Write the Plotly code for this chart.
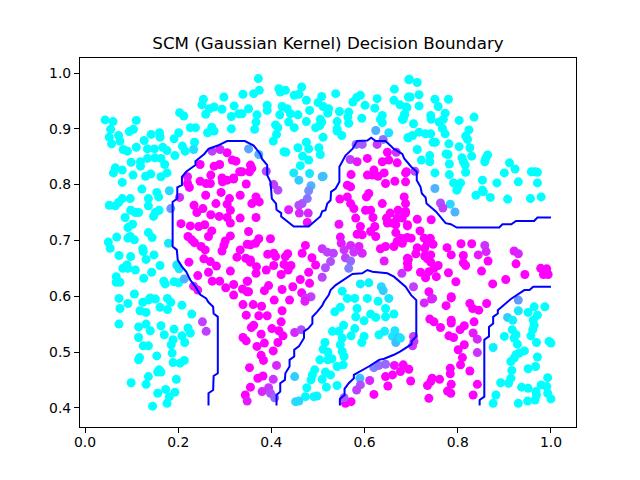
import plotly.graph_objects as go

title = "SCM (Gaussian Kernel) Decision Boundary"
x_ticks = [0.0, 0.2, 0.4, 0.6, 0.8, 1.0]
y_ticks = [0.4, 0.5, 0.6, 0.7, 0.8, 0.9, 1.0]

cyan_points = [
(.043,.916),(.060,.913),(.110,.915),(.055,.899),(.052,.885),(.072,.888),(.057,.873),(.075,.878),(.082,.863),(.091,.860),(.095,.895),(.104,.899),(.127,.879),(.110,.867),(.142,.890),(.160,.893),(.161,.885),(.134,.864),(.149,.864),(.167,.867),(.176,.861),(.191,.882),(.201,.893),(.193,.852),(.209,.869),(.215,.860),(.226,.902),(.237,.902),(.263,.893),(.272,.903),(.277,.896),(.314,.900),(.203,.929),(.212,.923),(.254,.953),(.251,.943),(.259,.926),(.267,.936),(.277,.939),(.294,.935),(.298,.957),(.320,.941),(.314,.922),(.330,.927),(.099,.840),(.119,.841),(.119,.833),(.134,.847),(.150,.848),(.163,.847),(.171,.836),(.065,.830),(.061,.821),(.080,.826),(.103,.817),(.130,.815),(.141,.819),(.163,.814),(.176,.821),(.235,.876),
(.372,.990),(.339,.962),(.362,.963),(.374,.969),(.416,.972),(.419,.966),(.430,.969),(.465,.975),(.449,.960),(.459,.962),(.475,.951),(.538,.963),(.508,.958),(.500,.947),(.511,.940),(.523,.936),(.521,.928),(.546,.931),(.583,.956),(.591,.960),(.575,.948),(.601,.942),(.627,.954),(.622,.937),(.664,.971),(.663,.951),(.676,.943),(.694,.957),(.695,.988),(.689,.939),(.686,.926),(.683,.917),(.351,.936),(.337,.927),(.369,.925),(.367,.912),(.364,.899),(.391,.942),(.391,.933),(.423,.940),(.434,.936),(.418,.925),(.441,.927),(.457,.925),(.437,.912),(.449,.902),(.409,.907),(.414,.902),(.411,.890),(.404,.878),(.482,.933),(.475,.913),(.505,.917),(.508,.912),(.495,.902),(.504,.906),(.541,.913),(.541,.900),(.541,.896),(.551,.888),(.566,.930),(.564,.921),(.566,.910),(.594,.919),(.638,.924),(.634,.917),(.638,.911),(.511,.885),(.475,.876),(.457,.866),(.480,.864),(.502,.866),(.427,.859),(.431,.858),(.505,.854),(.467,.851),(.480,.844),(.462,.834),(.694,.884),
(.696,.989),(.713,.983),(.698,.957),(.717,.961),(.717,.941),(.691,.938),(.685,.924),(.681,.917),(.705,.909),(.751,.953),(.780,.953),(.758,.940),(.773,.928),(.742,.924),(.743,.917),(.760,.912),(.769,.917),(.803,.915),(.835,.921),(.767,.901),(.773,.891),(.717,.894),(.731,.891),(.742,.891),(.703,.888),(.693,.884),(.747,.876),(.752,.876),(.781,.873),(.824,.898),(.817,.887),(.821,.881),(.803,.868),(.826,.866),(.830,.851),(.713,.863),(.740,.852),(.740,.841),(.722,.844),(.775,.855),(.779,.854),(.809,.848),(.812,.841),(.816,.835),(.782,.837),(.751,.821),(.782,.818),(.817,.822),(.864,.853),(.860,.847),(.858,.841),(.911,.839),(.923,.828),(.900,.821),(.958,.823),(.966,.823),(.971,.822),(.853,.808),(.884,.803),(.930,.805),(.971,.803),(.791,.803),(.806,.803),
(.080,.804),(.122,.792),(.154,.786),(.158,.778),(.136,.775),(.136,.762),(.097,.775),(.080,.775),(.072,.768),(.065,.762),(.052,.763),(.098,.754),(.115,.750),(.108,.750),(.086,.741),(.159,.754),(.151,.750),(.147,.743),(.102,.729),(.092,.723),(.136,.714),(.144,.705),(.097,.707),(.092,.704),(.106,.701),(.068,.706),(.050,.697),(.054,.686),(.124,.685),(.125,.680),(.073,.673),(.098,.671),(.148,.674),(.131,.666),(.161,.655),(.090,.656),(.081,.650),(.092,.650),(.108,.647),(.143,.643),(.067,.635),(.067,.625),(.075,.625),(.126,.632),(.169,.627),(.172,.622),(.191,.626),(.201,.624),(.106,.604),(.140,.597),
(.801,.796),(.798,.790),(.853,.790),(.839,.781),(.855,.787),(.870,.777),(.907,.774),(.956,.775),(.979,.778),
(.073,.596),(.092,.587),(.075,.578),(.124,.589),(.136,.593),(.151,.595),(.177,.596),(.184,.589),(.208,.584),(.161,.580),(.177,.576),(.118,.574),(.131,.571),(.229,.568),(.073,.550),(.115,.545),(.131,.550),(.140,.538),(.163,.547),(.191,.541),(.221,.543),(.226,.534),(.115,.526),(.170,.531),(.208,.529),(.189,.522),(.214,.517),(.185,.513),(.125,.511),(.136,.511),(.187,.498),(.154,.493),(.117,.490),(.115,.486),(.189,.481),(.204,.480),(.213,.485),(.159,.468),(.163,.464),(.156,.464),(.136,.456),(.196,.451),(.099,.445),(.131,.442),(.173,.433),(.193,.428),(.156,.426),(.181,.420),(.176,.408),(.145,.403),
(.563,.596),(.579,.596),(.606,.596),(.629,.591),(.548,.580),(.536,.572),(.584,.578),(.581,.563),(.599,.556),(.613,.568),(.624,.562),(.645,.578),(.645,.563),(.663,.568),(.555,.548),(.579,.542),(.531,.537),(.545,.537),(.552,.525),(.571,.529),(.599,.528),(.594,.517),(.515,.517),(.548,.513),(.511,.505),(.552,.501),(.521,.500),(.556,.492),(.530,.488),(.504,.486),(.521,.486),(.554,.477),(.541,.474),(.631,.531),(.493,.468),(.488,.459),(.485,.450),(.516,.464),(.527,.459),(.509,.451),(.518,.437),(.541,.440),(.476,.436),
(.964,.581),(.987,.581),(.951,.571),(.971,.566),(.962,.557),(.964,.548),(.961,.540),(.957,.529),(.917,.540),(.925,.531),(.900,.528),(.921,.525),(.928,.514),(.969,.517),(.996,.519),(1.0,.516),(.943,.502),(.925,.495),(.932,.498),(.921,.489),(.914,.483),(.971,.491),(.951,.470),(.967,.474),(.916,.467),(.914,.453),(.892,.445),(.909,.444),(.993,.454),(.937,.437),(.951,.435),(.979,.441),(.991,.438),(.968,.429),(.969,.423),(.993,.426),(1.0,.416),(.882,.423),(.876,.408),(.930,.408),(.950,.412),(.966,.414),
]

magenta_points = [
(.305,.857),(.316,.844),(.324,.842),(.247,.836),(.277,.833),(.289,.836),(.270,.817),(.294,.812),(.319,.812),(.332,.823),
(.355,.835),(.358,.829),(.337,.823),(.353,.823),(.649,.858),(.606,.847),(.638,.841),(.652,.844),(.670,.839),(.690,.823),(.571,.818),(.620,.826),(.606,.817),(.617,.817),(.642,.821),(.629,.815),(.688,.821),(.688,.805),
(.220,.802),(.224,.795),(.247,.806),(.260,.802),(.269,.802),(.259,.781),(.292,.786),(.295,.805),(.305,.808),(.319,.810),(.346,.801),(.333,.781),(.310,.775),(.305,.765),(.281,.766),(.234,.763),(.253,.757),(.240,.750),(.312,.754),(.270,.746),(.288,.743),(.305,.741),(.312,.731),(.333,.740),(.206,.730),(.226,.726),(.244,.725),(.257,.728),(.272,.717),(.265,.707),(.221,.707),(.229,.701),(.235,.696),(.312,.708),(.301,.699),(.298,.691),(.294,.681),(.249,.689),(.258,.683),(.351,.716),(.348,.693),(.333,.683),(.326,.670),(.345,.668),(.355,.665),(.223,.661),(.255,.667),(.269,.662),(.282,.654),(.312,.645),(.265,.643),(.242,.637),(.273,.627),(.289,.627),(.302,.615),(.319,.621),(.338,.613),(.348,.627),(.348,.608),(.319,.602),
(.367,.778),(.374,.769),(.358,.766),(.367,.741),(.398,.703),(.373,.703),(.366,.695),(.355,.692),(.355,.661),(.368,.653),(.367,.641),(.392,.675),(.405,.677),(.409,.671),(.405,.655),(.389,.647),(.430,.671),(.435,.676),(.427,.657),(.442,.655),(.436,.647),(.421,.639),(.480,.643),(.495,.656),(.487,.669),(.473,.691),(.466,.677),(.349,.627),(.394,.619),(.385,.610),(.423,.612),(.462,.630),(.446,.617),(.465,.606),(.482,.623),(.351,.608),
(.563,.799),(.570,.796),(.547,.774),(.563,.778),(.570,.766),(.577,.757),(.581,.740),(.618,.741),(.602,.754),(.613,.754),(.604,.778),(.609,.784),(.645,.802),(.665,.806),(.638,.766),(.685,.778),(.688,.766),(.672,.754),(.688,.752),(.655,.749),(.647,.740),(.649,.731),(.670,.740),(.660,.731),(.667,.728),(.692,.728),(.591,.725),(.584,.711),(.595,.710),(.622,.725),(.613,.716),(.624,.707),(.667,.714),(.677,.704),(.688,.704),(.663,.689),(.645,.689),(.634,.685),(.670,.698),(.692,.659),(.692,.668),
(.688,.749),(.681,.740),(.713,.738),(.743,.737),(.692,.726),(.719,.717),(.692,.705),(.700,.704),(.681,.695),(.728,.704),(.741,.704),(.735,.695),(.747,.693),(.713,.687),(.710,.676),(.729,.686),(.729,.672),(.742,.674),(.735,.667),(.742,.661),(.758,.655),(.694,.666),(.693,.652),(.749,.650),(.720,.643),(.731,.633),(.738,.644),(.754,.635),(.780,.642),(.796,.626),(.777,.687),(.786,.674),(.807,.694),(.830,.694),(.812,.673),(.812,.660),(.817,.655),(.865,.663),(.851,.645),(.925,.658),(.944,.639),(.978,.650),(.991,.649),(.984,.639),(.994,.639),(.903,.630),(.875,.622),(.738,.608),(.786,.599),
(.339,.585),(.361,.585),(.379,.582),(.346,.566),(.373,.565),(.391,.565),(.406,.593),(.439,.593),(.423,.574),(.421,.554),(.362,.548),(.357,.544),(.401,.542),(.416,.538),(.425,.529),(.378,.532),(.339,.526),(.346,.520),(.414,.517),(.385,.516),(.369,.510),(.404,.502),(.378,.494),(.383,.485),(.353,.472),(.382,.457),(.371,.453),(.355,.437),(.344,.423),
(.559,.408),(.571,.411),(.620,.424),(.650,.439),(.645,.456),(.660,.459),(.683,.477),(.677,.465),(.695,.469),(.699,.448),
(.744,.595),(.786,.597),(.775,.583),(.826,.587),(.832,.578),(.845,.575),(.862,.587),(.740,.559),(.749,.554),(.763,.544),(.786,.557),(.786,.552),(.835,.554),(.814,.547),(.805,.540),(.781,.529),(.791,.526),(.814,.513),(.801,.504),(.810,.490),(.806,.477),(.826,.466),(.784,.471),(.784,.461),(.761,.451),(.745,.453),(.742,.447),(.735,.440),(.786,.442),(.778,.430),(.785,.426),(.738,.417),(.842,.442),(.833,.423),
]

mixed_points = [
(.233,.863,.12),(.273,.860,.75),(.290,.863,.85),(.220,.814,.9),
(.652,.893,.1),(.624,.897,.3),(.448,.821,.1),(.482,.820,.1),(.511,.815,.25),(.351,.864,.35),(.373,.854,.3),(.389,.824,.7),(.582,.872,.6),(.595,.872,.65),(.640,.881,.55),(.627,.872,.8),(.668,.858,.8),(.569,.845,.75),(.584,.841,.9),(.708,.824,.7),
(.179,.695,.08),(.197,.656,.1),(.202,.649,.1),(.181,.789,.15),(.184,.757,.4),(.203,.777,.85),(.213,.631,.3),(.233,.618,.85),(.242,.611,.9),
(.459,.808,.2),(.485,.798,.3),(.509,.814,.25),(.480,.789,.45),(.477,.775,.55),(.466,.766,.65),(.459,.763,.7),(.414,.790,.7),(.405,.800,.75),(.437,.755,.9),(.460,.749,.85),(.479,.749,.85),(.477,.732,.95),(.485,.599,.75),(.473,.597,.8),
(.509,.685,.8),(.520,.679,.75),(.533,.677,.75),(.527,.662,.7),(.516,.651,.7),(.509,.634,.75),(.545,.729,.95),(.548,.706,.95),(.550,.695,.9),(.556,.683,.8),(.570,.691,.85),(.588,.689,.9),(.577,.679,.8),(.595,.677,.85),(.559,.669,.75),(.570,.663,.6),(.566,.650,.5),(.642,.663,.9),(.680,.641,.8),
(.591,.622,.05),(.609,.624,.05),(.552,.609,.02),(.636,.617,.15),(.640,.610,.2),
(.751,.793,.3),(.784,.765,.15),(.794,.751,.3),(.763,.767,.7),(.768,.758,.75),(.844,.674,.9),(.858,.691,.8),(.861,.680,.85),(.921,.681,.9),(.930,.676,.85),(.705,.617,.75),(.746,.596,.85),
(.252,.554,.75),(.260,.537,.75),(.348,.412,.9),(.411,.476,.85),(.404,.451,.8),(.394,.436,.8),(.380,.429,.85),(.398,.426,.7),(.407,.418,.6),(.450,.535,.85),(.464,.540,.7),(.472,.591,.9),
(.652,.596,.1),(.643,.537,.05),(.665,.538,.1),(.660,.528,.1),(.674,.526,.25),(.667,.517,.25),(.473,.420,.02),(.452,.411,.15),(.459,.412,.15),(.491,.420,.03),(.498,.421,.05),(.450,.456,.2),(.590,.453,.25),
(.591,.441,.7),(.583,.432,.75),(.611,.449,.85),(.620,.472,.5),(.631,.476,.55),(.645,.478,.6),(.556,.418,.65),(.664,.476,.95),
(.705,.528,.75),(.706,.519,.8),(.703,.511,.8),(.677,.525,.1),(.728,.588,.85),(.842,.523,.85),(.842,.499,.8),(.833,.534,.9),
(.930,.593,.4),(.930,.574,.1),(.907,.562,.2),(.918,.557,.05),(.876,.508,.05),
]

boundary_left = [
(.265,.404),(.265,.426),(.275,.432),(.276,.457),(.285,.462),(.285,.563),(.276,.569),(.275,.581),(.265,.589),(.260,.596),(.247,.603),(.237,.617),(.226,.629),(.217,.644),(.208,.653),(.199,.665),(.197,.683),(.188,.689),(.188,.769),(.198,.775),(.198,.795),(.208,.799),(.208,.814),(.217,.823),(.237,.835),(.237,.842),(.256,.855),(.265,.864),(.285,.870),(.305,.878),(.343,.878),(.362,.870),(.376,.855),(.380,.846),(.391,.835),(.391,.817),(.398,.805),(.401,.775),(.410,.766),(.411,.755),(.421,.749),(.421,.743),(.448,.725),(.480,.725),(.505,.743),(.509,.752),(.516,.754),(.520,.766),(.527,.772),(.528,.787),(.538,.793),(.546,.805),(.546,.832),(.548,.835),(.559,.852),(.574,.864),(.584,.878),(.606,.879),(.614,.884),(.624,.878),(.645,.878),(.663,.864),(.681,.855),(.685,.847),(.700,.832),(.712,.823),(.712,.808),(.720,.796),(.723,.784),(.731,.777),(.733,.766),(.753,.752),(.774,.731),(.785,.729),(.798,.723),(.889,.723),(.896,.729),(.915,.729),(.925,.735),(.964,.735),(.971,.741),(1.0,.741),
]
boundary_middle = [
(.411,.404),(.411,.423),(.419,.429),(.419,.444),(.429,.450),(.430,.462),(.439,.474),(.439,.486),(.449,.492),(.449,.504),(.459,.510),(.470,.525),(.470,.537),(.479,.542),(.488,.551),(.488,.563),(.498,.572),(.509,.583),(.513,.590),(.523,.602),(.527,.611),(.538,.620),(.574,.640),(.595,.641),(.606,.647),(.617,.644),(.649,.641),(.663,.635),(.688,.617),(.700,.602),(.711,.593),(.711,.528),(.701,.519),(.701,.514),(.677,.501),(.663,.495),(.642,.488),(.631,.486),(.609,.474),(.577,.459),(.577,.453),(.566,.444),(.557,.434),(.557,.423),(.547,.416),(.547,.404),
]
boundary_right = [
(.847,.404),(.847,.414),(.857,.420),(.857,.522),(.867,.528),(.867,.545),(.876,.551),(.876,.563),(.886,.569),(.886,.575),(.914,.595),(.943,.611),(.954,.611),(.962,.617),(1.0,.617),
]

all_x = [p[0] for p in cyan_points] + [p[0] for p in magenta_points] + [p[0] for p in mixed_points]
all_y = [p[1] for p in cyan_points] + [p[1] for p in magenta_points] + [p[1] for p in mixed_points]
all_v = [0.0] * len(cyan_points) + [1.0] * len(magenta_points) + [p[2] for p in mixed_points]

fig = go.Figure()
fig.add_trace(go.Scatter(
    x=all_x, y=all_y, mode="markers",
    marker=dict(size=9, color=all_v, cmin=0, cmax=1,
                colorscale=[[0, "#00ffff"], [1, "#ff00ff"]], line=dict(width=0)),
))
for line in (boundary_left, boundary_middle, boundary_right):
    fig.add_trace(go.Scatter(
        x=[p[0] for p in line], y=[p[1] for p in line], mode="lines",
        line=dict(color="#0000ff", width=2),
    ))

axis_style = dict(
    showgrid=False, zeroline=False, showline=True, mirror=True,
    linecolor="black", linewidth=1.1, ticks="outside", ticklen=5,
    tickwidth=1.1, tickcolor="black", tickformat=".1f",
    tickfont=dict(family="DejaVu Sans", size=13.9, color="black"),
)
fig.update_layout(
    width=640, height=480, showlegend=False,
    paper_bgcolor="white", plot_bgcolor="white",
    margin=dict(l=72, r=72, t=50, b=61, autoexpand=False),
    title=dict(text=title, font=dict(family="DejaVu Sans", size=16.7, color="black"),
               x=(72 + 568) / 2 / 640, xanchor="center", y=1 - 35 / 480, yanchor="middle"),
    xaxis=dict(range=[-0.0108, 1.0538], tickvals=x_ticks, ticklabelstandoff=-3, **axis_style),
    yaxis=dict(range=[0.3656, 1.0269], tickvals=y_ticks, **axis_style),
)
fig.write_html("out.html")
